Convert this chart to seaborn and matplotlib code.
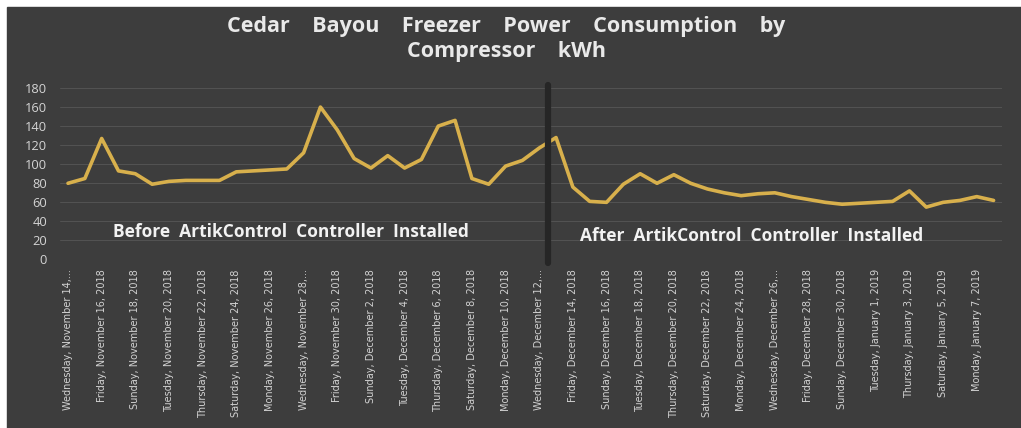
import matplotlib
matplotlib.use("Agg")
import matplotlib.pyplot as plt
import matplotlib.patches as mpatches
import seaborn as sns
import pandas as pd

# daily compressor kWh, Nov 14 2018 .. Jan 8 2019
kwh = [80, 85, 127, 93, 90, 79, 82, 83, 83, 83,
       92, 93, 94, 95, 112, 160, 136, 106, 96, 109,
       96, 105, 140, 146, 85, 79, 98, 104, 117, 128,
       76, 61, 60, 79, 90, 80, 89, 80, 74, 70,
       67, 69, 70, 66, 63, 60, 58, 59, 60, 61,
       72, 55, 60, 62, 66, 62]

tick_labels = [
    "Wednesday, November 14,...", "Friday, November 16, 2018", "Sunday, November 18, 2018",
    "Tuesday, November 20, 2018", "Thursday, November 22, 2018", "Saturday, November 24, 2018",
    "Monday, November 26, 2018", "Wednesday, November 28,...", "Friday, November 30, 2018",
    "Sunday, December 2, 2018", "Tuesday, December 4, 2018", "Thursday, December 6, 2018",
    "Saturday, December 8, 2018", "Monday, December 10, 2018", "Wednesday, December 12,...",
    "Friday, December 14, 2018", "Sunday, December 16, 2018", "Tuesday, December 18, 2018",
    "Thursday, December 20, 2018", "Saturday, December 22, 2018", "Monday, December 24, 2018",
    "Wednesday, December 26,...", "Friday, December 28, 2018", "Sunday, December 30, 2018",
    "Tuesday, January 1, 2019", "Thursday, January 3, 2019", "Saturday, January 5, 2019",
    "Monday, January 7, 2019",
]
y_ticks = [0, 20, 40, 60, 80, 100, 120, 140, 160, 180]

install_day = 28  # Dec 12, controller installed after this day

df = pd.DataFrame({"day": range(len(kwh)), "kwh": kwh})

bg = "#3d3d3d"
gold = "#d8b04c"

sns.set_theme(style="dark")
plt.rcParams["font.family"] = ["Open Sans", "DejaVu Sans"]

fig = plt.figure(figsize=(10.21, 4.28), dpi=100, facecolor="white")
fig.patches.append(mpatches.Rectangle((7 / 1021, 0), 1, 1 - 7 / 428,
                                      transform=fig.transFigure, color=bg, zorder=-10))

ax = fig.add_axes([59.6 / 1021, 168.5 / 428, (1002 - 59.6) / 1021, 171.5 / 428])
ax.set_facecolor(bg)

sns.lineplot(data=df, x="day", y="kwh", ax=ax, color=gold, linewidth=2.6, zorder=3)

ax.axvline(install_day + 0.5, ymin=-0.02, ymax=1.02, color="#262626", linewidth=4.5,
           zorder=4, clip_on=False)

ax.set_xlim(-0.5, len(kwh) - 0.5)
ax.set_ylim(0, 180)
ax.set_yticks(y_ticks)
ax.set_xticks(range(0, len(kwh), 2)[:len(tick_labels)])
ax.set_xticklabels(tick_labels, rotation=90, fontsize=7.0, color="#d2d2d2",
                   family=["Liberation Sans Narrow", "DejaVu Sans"], va="top")
ax.tick_params(axis="y", labelsize=9.3, labelcolor="#d4d4d4", length=0, pad=9)
ax.tick_params(axis="x", length=0, pad=7)
ax.grid(axis="y", color="#535353", linewidth=0.7)
ax.grid(axis="x", visible=False)
for s in ax.spines.values():
    s.set_visible(False)
ax.set_xlabel("")
ax.set_ylabel("")

ax.text(13.25, 29, "Before  ArtikControl  Controller  Installed", ha="center", va="center",
        fontsize=12.5, fontweight="bold", color="#f2f2f2", zorder=5)
ax.text(40.6, 25, "After  ArtikControl  Controller  Installed", ha="center", va="center",
        fontsize=12.5, fontweight="bold", color="#f2f2f2", zorder=5)

fig.text(0.496, 1 - 39 / 428, "Cedar    Bayou    Freezer    Power    Consumption    by\nCompressor    kWh",
         ha="center", va="center", fontsize=15.5, fontweight="bold", color="#e9e9e9",
         linespacing=1.3)

fig.savefig("out.png", dpi=100, facecolor=fig.get_facecolor())
